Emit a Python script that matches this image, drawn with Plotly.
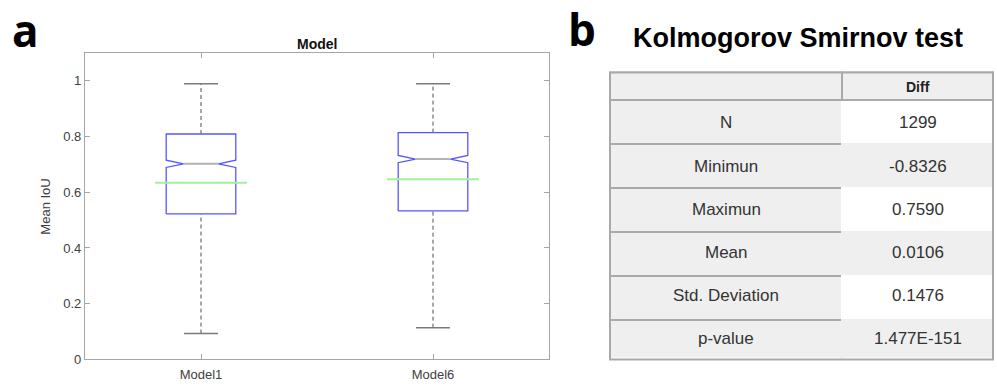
import plotly.graph_objects as go

# ---- panel a: notched box plot summary statistics ----
models = ["Model1", "Model6"]
positions = [1, 2]
q1 = [0.522, 0.533]
median = [0.702, 0.719]
q3 = [0.809, 0.814]
notch_span = [0.013, 0.013]
mean_iou = [0.634, 0.647]
whisker_low = [0.093, 0.114]
whisker_high = [0.989, 0.989]

# ---- panel b: Kolmogorov-Smirnov table ----
stat_names = ["N", "Minimun", "Maximun", "Mean", "Std. Deviation", "p-value"]
stat_values = ["1299", "-0.8326", "0.7590", "0.0106", "0.1476", "1.477E-151"]
value_header = "Diff"

W, H = 997, 389
BOX_HALF = 0.15
NOTCH_HALF = 0.075
CAP_HALF = 0.073
MEAN_HALF = 0.198

BLUE = "rgb(85,85,255)"
MED_GRAY = "#b2b2b2"
GREEN = "#9ff09f"
WHISK = "#505050"
CAP = "#7a7a7a"
AXIS = "#a6a6a6"
TXT = "#404040"
FONT = "Liberation Sans, Arial, sans-serif"

fig = go.Figure()

for p, a, m, b, ns, mu, lo, hi in zip(positions, q1, median, q3, notch_span,
                                      mean_iou, whisker_low, whisker_high):
    # whiskers (dashed) from box edges to extremes
    fig.add_trace(go.Scatter(x=[p, p], y=[b, hi], mode="lines",
                             line=dict(color=WHISK, width=1, dash="4px,3px")))
    fig.add_trace(go.Scatter(x=[p, p], y=[lo, a], mode="lines",
                             line=dict(color=WHISK, width=1, dash="4px,3px")))
    # whisker caps
    for v in (lo, hi):
        fig.add_trace(go.Scatter(x=[p - CAP_HALF, p + CAP_HALF], y=[v, v], mode="lines",
                                 line=dict(color=CAP, width=1.5)))
    # notched box outline
    bx = [p - BOX_HALF, p + BOX_HALF, p + BOX_HALF, p + NOTCH_HALF, p + BOX_HALF,
          p + BOX_HALF, p - BOX_HALF, p - BOX_HALF, p - NOTCH_HALF, p - BOX_HALF,
          p - BOX_HALF]
    by = [a, a, m - ns, m, m + ns, b, b, m + ns, m, m - ns, a]
    fig.add_trace(go.Scatter(x=bx, y=by, mode="lines",
                             line=dict(color=BLUE, width=1.3)))
    # median
    fig.add_trace(go.Scatter(x=[p - NOTCH_HALF, p + NOTCH_HALF], y=[m, m], mode="lines",
                             line=dict(color=MED_GRAY, width=2)))
    # mean
    fig.add_trace(go.Scatter(x=[p - MEAN_HALF, p + MEAN_HALF], y=[mu, mu], mode="lines",
                             line=dict(color=GREEN, width=2)))

# ---- table grid (fills and borders); labels are placed centred in each cell ----
TBL_L, TBL_R, TBL_T = 610, 993, 74
COL_W = [232, 151]
HDR_H, ROW_H = 28, 44
n_rows = len(stat_names)
TBL_B = TBL_T + HDR_H + ROW_H * n_rows

right_fill = ["white" if i % 2 == 0 else "#efefef" for i in range(n_rows)]
fig.add_trace(go.Table(
    domain=dict(x=[TBL_L / W, TBL_R / W], y=[1 - TBL_B / H, 1 - TBL_T / H]),
    columnwidth=COL_W,
    header=dict(values=["", ""], height=HDR_H, fill_color="#efefef",
                line=dict(color="#a9a9a9", width=2)),
    cells=dict(values=[[""] * n_rows, [""] * n_rows], height=ROW_H,
               fill_color=[["#efefef"] * n_rows, right_fill],
               line=dict(color=[["#a9a9a9"] * n_rows, right_fill], width=2)),
))

col_cx = [TBL_L + COL_W[0] / 2, TBL_L + COL_W[0] + COL_W[1] / 2]
table_ann = [dict(text=f"<b>{value_header}</b>", x=col_cx[1] / W,
                  y=1 - (TBL_T + HDR_H / 2 + 1) / H,
                  font=dict(family=FONT, size=14, color="#222222"))]
for i, (name, val) in enumerate(zip(stat_names, stat_values)):
    yc = TBL_T + HDR_H + ROW_H * (i + 0.5) + 1.5
    table_ann.append(dict(text=name, x=col_cx[0] / W, y=1 - yc / H,
                          font=dict(family=FONT, size=17, color="#333333")))
    table_ann.append(dict(text=val, x=col_cx[1] / W, y=1 - yc / H,
                          font=dict(family=FONT, size=17, color="#333333")))
for ann in table_ann:
    ann.update(xref="paper", yref="paper", showarrow=False,
               xanchor="center", yanchor="middle")

fig.update_layout(
    width=W, height=H,
    margin=dict(l=0, r=0, t=0, b=0),
    paper_bgcolor="white", plot_bgcolor="white",
    showlegend=False,
    xaxis=dict(domain=[85 / W, 549 / W], range=[0.5, 2.5],
               tickvals=positions, ticktext=models,
               showline=True, mirror="ticks", linecolor=AXIS, linewidth=1.3,
               ticks="inside", ticklen=5, tickcolor=AXIS,
               showgrid=False, zeroline=False, ticklabelstandoff=3,
               tickfont=dict(family=FONT, size=13, color=TXT)),
    yaxis=dict(domain=[1 - 367 / H, 1 - 54 / H], range=[0, 1.1],
               tickvals=[0, 0.2, 0.4, 0.6, 0.8, 1],
               ticktext=["0", "0.2", "0.4", "0.6", "0.8", "1"],
               showline=True, mirror="ticks", linecolor=AXIS, linewidth=1.3,
               ticks="inside", ticklen=5, tickcolor=AXIS,
               showgrid=False, zeroline=False,
               tickfont=dict(family=FONT, size=13, color=TXT)),
    annotations=[
        dict(text="<b>Model</b>", x=317 / W, y=1 - 45 / H, xref="paper", yref="paper",
             showarrow=False, xanchor="center", yanchor="middle",
             font=dict(family=FONT, size=14, color="#111111")),
        dict(text="Mean IoU", x=46 / W, y=1 - 211 / H, xref="paper", yref="paper",
             showarrow=False, textangle=-90, xanchor="center", yanchor="middle",
             font=dict(family=FONT, size=13, color=TXT)),
        dict(text="<b>a</b>", x=25 / W, y=1 - 31 / H, xref="paper", yref="paper",
             showarrow=False, xanchor="center", yanchor="middle",
             font=dict(family="Open Sans, sans-serif", size=44, color="black")),
        dict(text="<b>b</b>", x=582 / W, y=1 - 30 / H, xref="paper", yref="paper",
             showarrow=False, xanchor="center", yanchor="middle",
             font=dict(family="Open Sans, sans-serif", size=44, color="black")),
        dict(text="<b>Kolmogorov Smirnov test</b>", x=798 / W, y=1 - 39 / H,
             xref="paper", yref="paper", showarrow=False,
             xanchor="center", yanchor="middle",
             font=dict(family=FONT, size=27, color="black")),
    ] + table_ann,
    shapes=[
        dict(type="rect", xref="paper", yref="paper",
             x0=TBL_L / W, x1=TBL_R / W, y0=1 - (TBL_B + 1) / H, y1=1 - TBL_T / H,
             line=dict(color="#a9a9a9", width=2), fillcolor="rgba(0,0,0,0)"),
    ],
)

fig.write_html("out.html")
